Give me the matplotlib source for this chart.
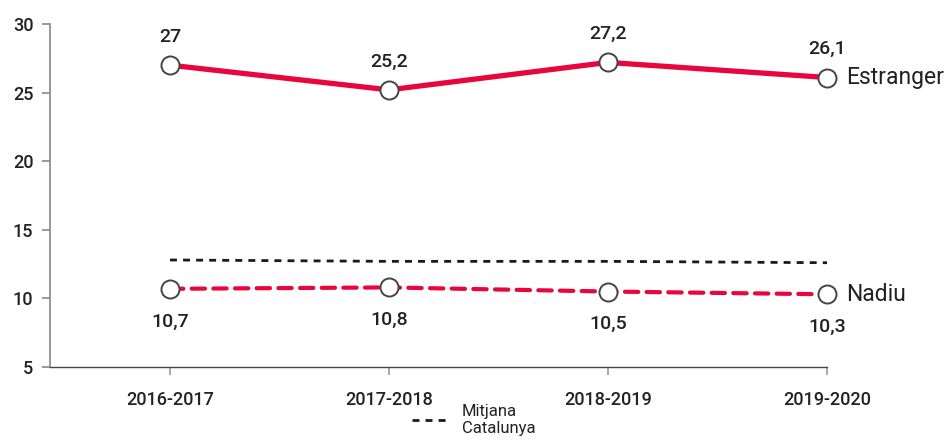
import matplotlib.pyplot as plt
from matplotlib.lines import Line2D

plt.rcParams["font.family"] = ["Roboto", "DejaVu Sans"]

# data
years = ["2016-2017", "2017-2018", "2018-2019", "2019-2020"]
estranger = [27.0, 25.2, 27.2, 26.1]
nadiu = [10.7, 10.8, 10.5, 10.3]
mitjana = [12.8, 12.7, 12.7, 12.6]
estranger_labels = ["27", "25,2", "27,2", "26,1"]
nadiu_labels = ["10,7", "10,8", "10,5", "10,3"]

red = "#e8063c"
text_col = "#222222"
x = list(range(len(years)))

fig = plt.figure(figsize=(9.46, 4.48), dpi=100)
ax = fig.add_axes([50 / 946, 81 / 448, 777 / 946, 343 / 448])

ax.plot(x, mitjana, color="#1a1a1a", lw=2.0, dashes=(2.5, 2.2), zorder=2,
        clip_on=False)
ax.plot(x, nadiu, color=red, lw=3.0, dashes=(3.2, 2.0), dash_capstyle="round",
        marker="o", ms=13, mfc="white", mec="#444444", mew=1.4, zorder=3,
        clip_on=False)
ax.plot(x, estranger, color=red, lw=3.8, solid_capstyle="round",
        marker="o", ms=13, mfc="white", mec="#444444", mew=1.4, zorder=3,
        clip_on=False)

for xi, v, lab in zip(x, estranger, estranger_labels):
    ax.annotate(lab, (xi, v), xytext=(0, 14), textcoords="offset points",
                ha="center", va="bottom", fontsize=14, fontweight="medium",
                color=text_col)
for xi, v, lab in zip(x, nadiu, nadiu_labels):
    ax.annotate(lab, (xi, v), xytext=(0, -17), textcoords="offset points",
                ha="center", va="top", fontsize=14, fontweight="medium",
                color=text_col)

ax.annotate("Estranger", (x[-1], estranger[-1]), xytext=(14, 0),
            textcoords="offset points", ha="left", va="center",
            fontsize=16.5, color=text_col)
ax.annotate("Nadiu", (x[-1], nadiu[-1]), xytext=(14, 0),
            textcoords="offset points", ha="left", va="center",
            fontsize=16.5, color=text_col)

ax.set_xlim(-0.548, 3)
ax.set_ylim(5, 30)
ax.set_yticks([5, 10, 15, 20, 25, 30])
ax.set_xticks(x)
ax.set_xticklabels(years)

for side in ["top", "right"]:
    ax.spines[side].set_visible(False)
ax.spines["left"].set_color("#888888")
ax.spines["left"].set_linewidth(1.2)
ax.spines["bottom"].set_color("#444444")
ax.spines["bottom"].set_linewidth(1.0)
ax.tick_params(axis="y", colors="#888888", labelcolor=text_col,
               labelsize=13, length=6, width=1.2, pad=6)
ax.tick_params(axis="x", colors="#999999", labelcolor=text_col,
               labelsize=13, length=6, width=1.2, pad=11)
for lab in ax.get_xticklabels() + ax.get_yticklabels():
    lab.set_fontweight("medium")

handle = Line2D([], [], color="#1a1a1a", lw=2.0, dashes=(2.5, 2.2))
leg = ax.legend([handle], ["Mitjana\nCatalunya"], loc="upper left",
                bbox_to_anchor=(412 / 946, 44 / 448), bbox_transform=fig.transFigure,
                frameon=False, fontsize=12, handlelength=2.2, handletextpad=0.8,
                borderaxespad=0, borderpad=0)
for t in leg.get_texts():
    t.set_color(text_col)

fig.savefig("out.png", dpi=100)
